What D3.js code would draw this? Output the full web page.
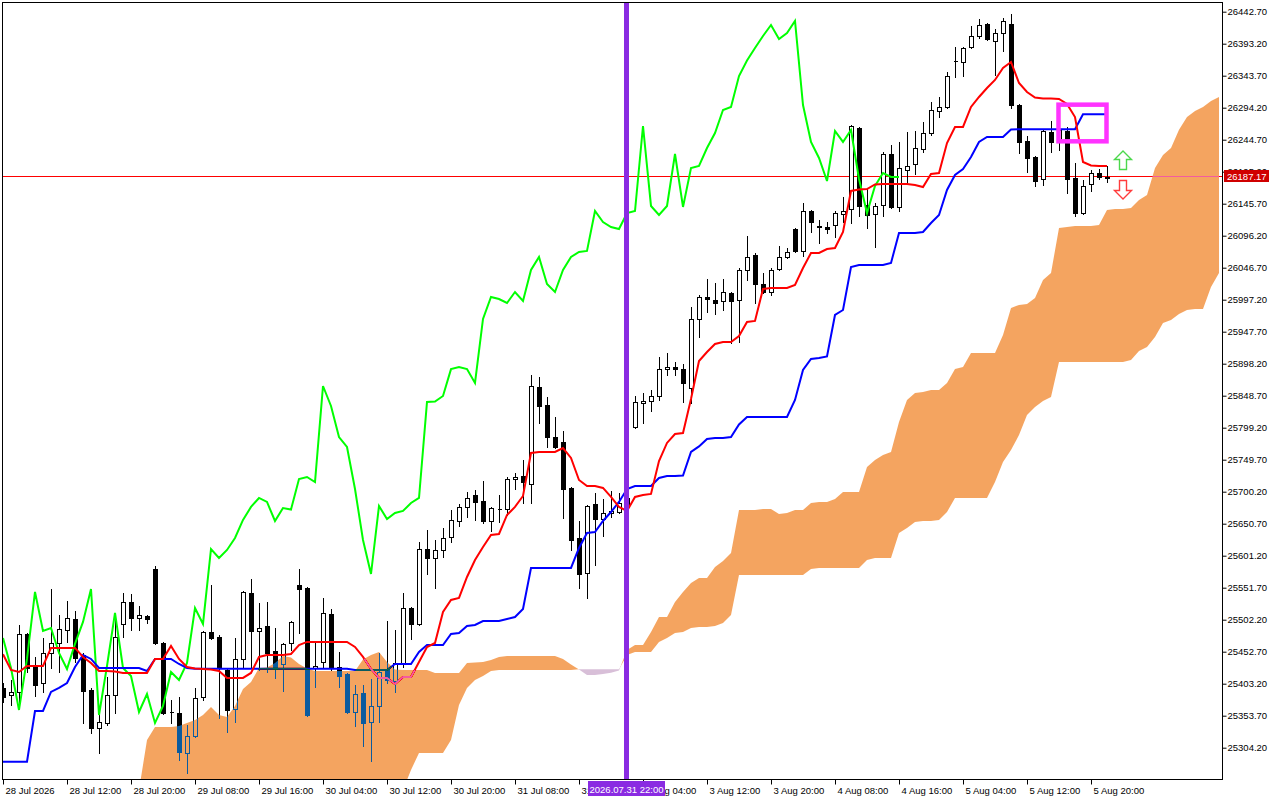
<!DOCTYPE html>
<html>
<head>
<meta charset="utf-8">
<script src="https://cdn.jsdelivr.net/npm/d3@7"></script>
<style>
  body { margin: 0; background: #fff; }
  svg { display: block; }
</style>
</head>
<body>
<svg width="1280" height="800"></svg>
<script>

// H1 candles, bar 0 = 28 Jul 2026 00:00
var opens = [25396.6,25385.8,25390.4,25480.1,25429.1,25404.3,25450.7,25466.2,25486.3,25503.3,
  25447.7,25393.5,25334.7,25342.5,25385.8,25495.6,25529.6,25504.9,25508.0,25580.7,
  25466.2,25359.5,25357.9,25296.1,25322.4,25382.7,25483.2,25475.5,25424.4,25364.1,
  25441.5,25543.6,25484.8,25492.5,25453.8,25433.7,25466.2,25555.9,25551.3,25427.5,
  25436.8,25511.1,25429.1,25418.3,25359.5,25388.9,25344.0,25368.8,25425.9,25407.4,
  25435.3,25520.3,25495.6,25611.6,25597.7,25610.1,25630.2,25654.9,25676.6,25695.1,
  25685.9,25654.9,25673.5,25673.5,25719.9,25724.5,25712.2,25862.2,25834.3,25784.8,
  25777.1,25706.0,25628.6,25574.5,25681.2,25658.0,25667.3,25668.8,25679.7,25800.3,
  25837.4,25839.8,25848.3,25889.8,25893.1,25890.0,25860.6,25967.4,26001.4,25996.8,
  25995.2,26007.6,25996.8,26043.2,26066.4,26021.5,26009.1,26044.7,26063.3,26106.6,
  26072.6,26134.4,26111.2,26109.6,26112.8,26129.8,26137.5,26262.8,26143.7,26129.8,
  26143.7,26222.6,26140.7,26197.9,26207.1,26230.3,26255.1,26289.1,26295.3,26366.4,
  26364.9,26388.1,26405.1,26423.7,26397.4,26409.8,26423.7,26298.4,26242.7,26217.9,
  26183.9,26256.6,26244.3,26258.2,26185.5,26131.3,26176.2,26193.2,26185.5];

var highs = [25404.3,25409.0,25494.1,25481.7,25444.6,25473.9,25549.7,25509.5,25531.2,25515.7,
  25450.7,25396.6,25367.2,25413.6,25512.6,25543.6,25542.0,25523.4,25509.5,25585.3,
  25467.8,25378.0,25382.7,25339.4,25396.6,25484.8,25555.9,25478.6,25427.5,25473.9,
  25546.6,25565.2,25528.1,25529.6,25489.4,25466.2,25500.2,25580.7,25552.8,25466.2,
  25535.8,25518.8,25452.3,25419.8,25401.2,25401.2,25410.5,25450.7,25500.2,25486.3,
  25543.6,25521.9,25622.4,25641.0,25625.5,25644.1,25671.9,25681.2,25699.8,25702.9,
  25716.8,25676.6,25695.1,25722.9,25729.2,25749.3,25880.8,25877.7,25846.7,25815.8,
  25794.1,25707.5,25654.9,25679.7,25698.2,25688.9,25701.3,25698.2,25695.1,25848.3,
  25852.9,25857.6,25908.6,25914.8,25900.9,25897.8,25985.9,26004.5,26029.2,26023.0,
  26029.2,26009.1,26046.3,26095.8,26069.5,26038.5,26046.3,26080.3,26077.2,26108.1,
  26146.8,26136.0,26120.5,26117.4,26134.4,26156.1,26267.5,26264.4,26169.9,26146.8,
  26225.7,26236.5,26241.2,26256.6,26258.2,26272.1,26303.0,26310.8,26349.4,26388.1,
  26388.1,26420.6,26431.4,26425.2,26416.0,26433.0,26439.1,26299.9,26250.4,26219.5,
  26259.7,26273.6,26272.1,26264.4,26208.7,26182.4,26197.9,26199.4,26204.0];

var lows = [25375.0,25370.3,25373.4,25421.4,25384.2,25390.4,25427.5,25421.4,25467.8,25436.8,
  25342.5,25327.0,25296.1,25339.4,25357.9,25475.5,25486.3,25486.3,25497.1,25464.7,
  25356.4,25342.5,25285.2,25265.1,25320.8,25378.0,25472.4,25350.2,25328.5,25344.0,
  25427.5,25427.5,25424.4,25421.4,25412.1,25392.0,25455.4,25481.7,25353.3,25398.1,
  25427.5,25424.4,25398.1,25357.9,25337.8,25306.9,25283.6,25344.0,25404.3,25390.4,
  25429.1,25472.4,25494.1,25572.9,25551.3,25599.2,25622.4,25647.2,25661.1,25656.5,
  25651.8,25639.5,25653.4,25664.2,25704.4,25682.8,25682.8,25806.5,25769.4,25767.8,
  25659.6,25610.1,25551.3,25535.8,25586.9,25631.7,25661.1,25667.3,25671.9,25798.8,
  25806.5,25825.1,25842.1,25880.8,25880.8,25839.0,25837.4,25939.5,25978.2,25975.1,
  25981.3,25930.3,25931.8,26027.7,25992.1,26007.6,26004.5,26043.2,26061.7,26071.0,
  26064.8,26101.9,26084.9,26100.4,26094.2,26117.4,26115.9,26126.7,26108.1,26078.7,
  26126.7,26139.2,26134.4,26176.2,26191.7,26225.7,26252.0,26279.8,26293.7,26341.7,
  26343.2,26386.5,26402.0,26398.9,26344.8,26381.9,26293.7,26224.1,26194.7,26173.1,
  26174.6,26225.7,26228.8,26162.3,26126.7,26129.8,26165.4,26183.9,26179.3];

var closes = [25382.7,25390.4,25480.1,25427.5,25401.2,25450.7,25466.2,25487.9,25504.9,25443.0,
  25392.0,25334.7,25344.0,25385.8,25475.5,25529.6,25504.9,25509.5,25503.3,25466.2,
  25357.9,25358.7,25297.6,25322.4,25381.1,25483.2,25473.9,25427.5,25362.6,25441.5,
  25545.1,25484.8,25489.4,25450.7,25425.9,25464.7,25498.7,25549.7,25354.8,25430.6,
  25512.6,25427.5,25415.2,25359.5,25387.3,25342.5,25368.8,25421.4,25409.0,25435.3,
  25520.3,25495.6,25611.6,25597.7,25610.1,25628.6,25656.5,25676.6,25690.5,25684.3,
  25654.9,25675.0,25672.7,25719.9,25722.9,25715.2,25863.7,25832.8,25784.8,25769.4,
  25704.4,25625.5,25572.9,25678.1,25658.0,25667.3,25670.4,25682.8,25690.5,25839.0,
  25839.8,25848.3,25889.8,25893.1,25890.0,25868.4,25967.4,26001.4,25998.3,25992.1,
  26009.1,25995.2,26043.2,26063.3,26021.5,26009.1,26043.2,26063.3,26071.0,26072.6,
  26134.4,26117.4,26109.6,26106.6,26131.3,26134.4,26265.9,26142.2,26128.2,26142.2,
  26222.6,26140.7,26200.9,26204.0,26231.8,26255.1,26290.7,26295.3,26343.2,26367.2,
  26386.5,26405.1,26422.1,26400.5,26409.8,26428.3,26298.4,26241.2,26216.4,26180.8,
  26258.2,26241.2,26259.7,26183.9,26131.3,26173.1,26193.2,26187.0,26187.17];

// ichimoku lines
var tenkan = [25448.7,25424.4,25421.4,25430.6,25430.6,25430.6,25458.5,25458.5,25458.5,25458.5,
  25444.6,25435.3,25422.9,25422.9,25422.1,25419.8,25419.8,25419.8,25419.8,25441.5,
  25441.5,25461.6,25441.5,25429.1,25426.8,25426.0,25425.2,25422.9,25412.1,25412.1,
  25412.1,25419.8,25444.6,25447.7,25447.7,25447.7,25449.2,25463.1,25467.8,25467.8,
  25467.8,25467.8,25467.8,25467.8,25460.0,25444.6,25426.0,25412.1,25412.1,25402.8,
  25413.6,25413.6,25436.8,25460.0,25466.2,25514.2,25532.7,25535.8,25568.3,25594.6,
  25614.7,25633.3,25634.8,25664.2,25676.6,25693.6,25760.1,25761.7,25761.7,25761.7,
  25767.8,25752.4,25718.3,25709.0,25709.0,25706.0,25692.1,25676.6,25670.4,25692.1,
  25695.1,25696.7,25747.7,25775.6,25789.5,25791.0,25843.6,25902.4,25916.3,25928.7,
  25931.8,25931.8,25941.1,25962.7,25964.3,26013.8,26015.3,26015.3,26015.3,26019.9,
  26046.3,26069.5,26069.5,26075.6,26077.2,26102.0,26165.4,26167.7,26168.4,26175.4,
  26176.2,26176.2,26176.2,26176.2,26174.6,26171.5,26191.7,26193.2,26239.6,26264.4,
  26264.4,26295.3,26310.8,26324.7,26337.1,26355.6,26364.9,26332.4,26318.5,26310.0,
  26308.4,26308.4,26307.7,26299.9,26279.8,26210.2,26204.8,26204.0,26204.0];

var kijun = [25282.6,25282.6,25282.6,25282.6,25361.0,25361.0,25390.4,25396.6,25404.3,25429.1,
  25447.7,25441.5,25427.5,25427.5,25427.5,25427.5,25427.5,25427.5,25422.9,25441.5,
  25441.5,25441.5,25433.7,25427.5,25426.4,25426.4,25426.4,25426.4,25426.4,25426.4,
  25426.4,25426.4,25426.4,25426.4,25426.4,25426.4,25426.4,25426.4,25426.4,25426.4,
  25426.4,25426.4,25426.4,25426.4,25424.4,25424.4,25424.4,25424.4,25424.4,25433.7,
  25433.7,25433.7,25452.3,25463.1,25463.1,25463.1,25480.1,25481.7,25492.5,25494.1,
  25500.2,25500.2,25500.2,25503.3,25506.4,25518.8,25582.2,25582.2,25582.2,25582.2,
  25582.2,25582.2,25613.2,25636.4,25637.9,25654.9,25668.8,25684.3,25704.4,25709.0,
  25709.0,25709.0,25721.4,25724.5,25724.5,25725.3,25761.7,25770.2,25781.8,25783.3,
  25783.3,25784.8,25804.2,25815.8,25815.8,25815.8,25815.8,25815.8,25815.8,25842.1,
  25888.5,25905.5,25907.1,25909.4,25973.6,25981.3,26047.8,26050.9,26050.9,26050.9,
  26050.9,26054.0,26100.4,26100.4,26100.4,26102.0,26115.9,26128.2,26166.9,26190.1,
  26199.4,26217.9,26241.2,26248.9,26248.9,26248.9,26260.5,26260.8,26260.8,26260.8,
  26260.8,26260.8,26260.8,26260.8,26260.8,26284.0,26284.0,26284.0,26284.0];

// cloud spans, first value sits on bar 17
var cloudStart = 17;
var spanA = [25238.8,25316.2,25336.3,25336.3,25336.3,25337.8,25342.5,25347.1,25354.8,25367.2,
  25354.8,25351.7,25368.8,25395.1,25405.9,25427.5,25428.3,25435.3,25446.1,25443.8,
  25433.7,25426.8,25422.9,25422.9,25422.9,25422.9,25422.9,25422.9,25440.7,25447.7,
  25452.3,25436.8,25425.2,25424.4,25424.4,25424.4,25424.4,25419.8,25419.8,25419.8,
  25419.8,25435.3,25436.0,25436.8,25439.9,25444.6,25446.1,25446.1,25446.1,25446.1,
  25446.1,25446.1,25446.1,25441.5,25432.9,25425.2,25416.7,25416.7,25418.3,25420.3,
  25423.6,25455.4,25463.1,25463.1,25483.2,25506.4,25506.4,25529.6,25545.1,25559.0,
  25566.7,25566.7,25583.7,25593.0,25605.4,25671.9,25671.9,25671.9,25673.5,25673.5,
  25665.7,25667.3,25671.9,25671.9,25682.8,25684.3,25684.3,25689.0,25699.8,25699.8,
  25699.8,25738.5,25749.3,25757.0,25761.7,25808.1,25842.1,25852.9,25854.5,25857.6,
  25857.6,25868.4,25890.0,25893.1,25914.8,25914.8,25914.8,25914.8,25942.6,25984.4,
  25989.0,25990.6,25999.8,26027.7,26038.5,26108.1,26109.6,26111.2,26111.2,26111.2,
  26112.8,26136.0,26137.5,26137.5,26139.1,26151.4,26159.2,26201.0,26221.1,26231.9,
  26260.0,26279.8,26289.1,26295.3,26304.6,26310.8];

var spanB = [25192.4,25192.4,25192.4,25192.4,25192.4,25192.4,25192.4,25192.4,25192.4,25192.4,
  25192.4,25192.4,25192.4,25192.4,25192.4,25192.4,25192.4,25192.4,25192.4,25192.4,
  25192.4,25192.4,25192.4,25192.4,25192.4,25192.4,25192.4,25192.4,25192.4,25192.4,
  25192.4,25192.4,25192.4,25238.8,25269.7,25296.1,25296.1,25296.1,25296.1,25316.2,
  25370.3,25396.6,25409.0,25415.2,25422.9,25424.4,25424.4,25424.4,25424.4,25424.4,
  25424.4,25424.4,25424.4,25424.4,25424.4,25425.5,25425.5,25425.5,25425.5,25425.5,
  25425.5,25447.7,25452.3,25452.3,25452.3,25467.8,25473.9,25481.7,25483.2,25489.4,
  25490.9,25490.9,25492.5,25497.1,25509.5,25571.4,25571.4,25571.4,25571.4,25571.4,
  25571.4,25571.4,25571.4,25571.4,25580.7,25582.2,25582.2,25582.2,25582.2,25582.2,
  25582.2,25594.6,25597.7,25597.7,25597.7,25636.4,25644.1,25653.4,25654.9,25654.9,
  25656.5,25668.8,25690.5,25690.5,25690.5,25690.5,25690.5,25715.2,25746.1,25764.7,
  25787.9,25818.9,25831.2,25840.5,25846.7,25900.9,25900.9,25900.9,25900.9,25900.9,
  25900.9,25900.9,25900.9,25900.9,25904.0,25917.9,25924.1,25939.5,25961.2,25965.8,
  25975.1,25981.3,25982.8,25982.8,26016.9,26038.5];

var chikouShift = 26;

var priceTicks = [26442.70,26393.20,26343.70,26294.20,26244.70,26195.20,26145.70,26096.20,
  26046.70,25997.20,25947.70,25898.20,25848.70,25799.20,25749.70,25700.20,25650.70,25601.20,
  25551.70,25502.20,25452.70,25403.20,25353.70,25304.20];

var timeLabels = ["28 Jul 2026","28 Jul 12:00","28 Jul 20:00","29 Jul 08:00","29 Jul 16:00",
  "30 Jul 04:00","30 Jul 12:00","30 Jul 20:00","31 Jul 08:00","31 Jul 16:00","3 Aug 04:00",
  "3 Aug 12:00","3 Aug 20:00","4 Aug 08:00","4 Aug 16:00","5 Aug 04:00","5 Aug 12:00","5 Aug 20:00"];
var labelEvery = 8;

var lastPrice = 26187.17;
var markerBar = 78, markerText = "2026.07.31 22:00";
var boxBars = [132, 138], boxPrices = [26298.9, 26242.2];
var arrowBar = 140, arrowUpPrice = 26197.8, arrowDownPrice = 26182.4;

window.onload = function() {

  var W = 1280, H = 800;
  var plot = {left: 2, top: 2, right: 1222, bottom: 779};
  var font = "'Liberation Sans', Arial, sans-serif";

  var svg = d3.select("svg");

  // bar index -> x, price -> y
  var x = d3.scaleLinear().domain([0, 152]).range([3, 1219]);
  var y = d3.scaleLinear().domain([25304.2, 26442.7]).range([747.7, 11.7]);

  svg.append("rect").attr("width", W).attr("height", H).attr("fill", "#fff");

  var defs = svg.append("defs");
  defs.append("clipPath").attr("id", "plotClip").append("rect")
    .attr("x", plot.left).attr("y", plot.top)
    .attr("width", plot.right - plot.left).attr("height", plot.bottom - plot.top);

  var cloudIdx = d3.range(spanA.length);
  var cx = function(k) { return x(k + cloudStart); };

  // clip regions on either side of span A, to colour the cloud by sign
  defs.append("clipPath").attr("id", "belowA").append("path")
    .attr("d", d3.area().x(cx).y0(H).y1(function(k) { return y(spanA[k]); })(cloudIdx));
  defs.append("clipPath").attr("id", "aboveA").append("path")
    .attr("d", d3.area().x(cx).y0(0).y1(function(k) { return y(spanA[k]); })(cloudIdx));

  var g = svg.append("g").attr("clip-path", "url(#plotClip)");
  g.append("rect").attr("x", plot.left).attr("y", plot.top)
    .attr("width", plot.right - plot.left).attr("height", plot.bottom - plot.top)
    .attr("fill", "#fff");

  // current price line
  var py = Math.floor(y(lastPrice)) + 0.5;
  g.append("line")
    .attr("x1", plot.left).attr("x2", plot.right)
    .attr("y1", py).attr("y2", py)
    .attr("stroke", "#ff0000").attr("stroke-width", 1)
    .attr("shape-rendering", "crispEdges");

  // candles
  var bars = d3.range(opens.length);
  var cg = g.append("g").attr("shape-rendering", "crispEdges");
  cg.selectAll("line.wick").data(bars).enter().append("line")
    .attr("class", "wick")
    .attr("x1", function(d) { return x(d) + 0.5; })
    .attr("x2", function(d) { return x(d) + 0.5; })
    .attr("y1", function(d) { return Math.round(y(highs[d])); })
    .attr("y2", function(d) { return Math.round(y(lows[d])) + 1; })
    .attr("stroke", "#000");
  cg.selectAll("path.body").data(bars).enter().append("path")
    .attr("class", "body")
    .attr("d", function(d) {
      var t = Math.round(y(Math.max(opens[d], closes[d]))) + 0.5;
      var b = Math.round(y(Math.min(opens[d], closes[d]))) + 0.5;
      var l = x(d) - 1.5;
      return "M" + l + "," + t + "H" + (l + 4) + "V" + b + "H" + l + "Z";
    })
    .attr("fill", function(d) { return closes[d] >= opens[d] ? "#fff" : "#000"; })
    .attr("stroke", "#000");

  // ichimoku lines
  var line = d3.line()
    .x(function(d, i) { return x(i); })
    .y(function(d) { return y(d); });

  g.append("path").attr("d", line(closes.slice(chikouShift)))
    .attr("fill", "none").attr("stroke", "#00ff00").attr("stroke-width", 2);
  g.append("path").attr("d", line(kijun))
    .attr("fill", "none").attr("stroke", "#0000ff").attr("stroke-width", 2);
  g.append("path").attr("d", line(tenkan))
    .attr("fill", "none").attr("stroke", "#ff0000").attr("stroke-width", 2);

  // cloud, drawn the way the terminal does it: inverted over what lies below
  var cloud = g.append("g").style("mix-blend-mode", "difference");
  cloud.append("path")
    .attr("d", d3.area().x(cx).y0(function(k) { return y(spanB[k]); }).y1(0)(cloudIdx))
    .attr("fill", "#0b5b9f")
    .attr("clip-path", "url(#belowA)");
  cloud.append("path")
    .attr("d", d3.area().x(cx).y0(function(k) { return y(spanB[k]); }).y1(H)(cloudIdx))
    .attr("fill", "#274027")
    .attr("clip-path", "url(#aboveA)");

  // vertical line object
  g.append("line")
    .attr("x1", x(markerBar) - 0.5).attr("x2", x(markerBar) - 0.5)
    .attr("y1", plot.top).attr("y2", plot.bottom)
    .attr("stroke", "#8a2be2").attr("stroke-width", 5);

  // rectangle object
  g.append("rect")
    .attr("x", x(boxBars[0]) - 0.5)
    .attr("y", y(boxPrices[0]))
    .attr("width", x(boxBars[1]) - x(boxBars[0]))
    .attr("height", y(boxPrices[1]) - y(boxPrices[0]))
    .attr("fill", "none").attr("stroke", "#ff33ff").attr("stroke-width", 4.5);

  // arrow objects
  var ax = x(arrowBar);
  g.append("path")
    .attr("transform", "translate(" + ax + "," + y(arrowUpPrice) + ")")
    .attr("d", "M-3.5,-0.5 L3.5,-0.5 L3.5,-10.5 L8.5,-10.5 L0,-19 L-8.5,-10.5 L-3.5,-10.5 Z")
    .attr("fill", "#fff").attr("stroke", "#4cd84c").attr("stroke-width", 1.4);
  g.append("path")
    .attr("transform", "translate(" + ax + "," + y(arrowDownPrice) + ")")
    .attr("d", "M-3.5,0.5 L3.5,0.5 L3.5,10.5 L8.5,10.5 L0,19 L-8.5,10.5 L-3.5,10.5 Z")
    .attr("fill", "#fff").attr("stroke", "#ff3c3c").attr("stroke-width", 1.4);

  // frame
  svg.append("rect")
    .attr("x", plot.left + 0.5).attr("y", plot.top + 0.5)
    .attr("width", plot.right - plot.left).attr("height", plot.bottom - plot.top)
    .attr("fill", "none").attr("stroke", "#000").attr("shape-rendering", "crispEdges");

  // price axis
  var yAxis = d3.axisRight(y)
    .tickValues(priceTicks)
    .tickSize(4)
    .tickPadding(1)
    .tickFormat(d3.format(".2f"));
  var gy = svg.append("g")
    .attr("transform", "translate(" + (plot.right + 0.5) + ",0)")
    .call(yAxis);
  gy.select(".domain").remove();
  gy.attr("font-family", font).attr("font-size", 9.5);

  // time axis
  var labelBars = timeLabels.map(function(t, k) { return k * labelEvery; });
  var xAxis = d3.axisBottom(x)
    .tickValues(labelBars)
    .tickSize(5)
    .tickFormat(function(d, i) { return timeLabels[i]; });
  var gx = svg.append("g")
    .attr("transform", "translate(0," + (plot.bottom + 0.5) + ")")
    .call(xAxis);
  gx.select(".domain").remove();
  gx.attr("font-family", font).attr("font-size", 9.5);
  gx.selectAll(".tick text").attr("text-anchor", "start").attr("x", 2);

  // label of the vertical line on the time axis
  svg.append("rect")
    .attr("x", x(markerBar) - 39).attr("y", plot.bottom + 2)
    .attr("width", 77).attr("height", 15)
    .attr("fill", "#8a2be2");
  svg.append("text")
    .attr("x", x(markerBar) - 0.5).attr("y", plot.bottom + 13.5)
    .attr("text-anchor", "middle")
    .attr("font-family", font).attr("font-size", 9.5)
    .attr("fill", "#fff")
    .text(markerText);

  // last price label
  svg.append("rect")
    .attr("x", plot.right + 2).attr("y", py - 6.5)
    .attr("width", 45).attr("height", 12)
    .attr("fill", "#d00000");
  svg.append("text")
    .attr("x", plot.right + 5).attr("y", py + 3.5)
    .attr("font-family", font).attr("font-size", 9.5)
    .attr("fill", "#fff")
    .text(d3.format(".2f")(lastPrice));
};
</script>
</body>
</html>
